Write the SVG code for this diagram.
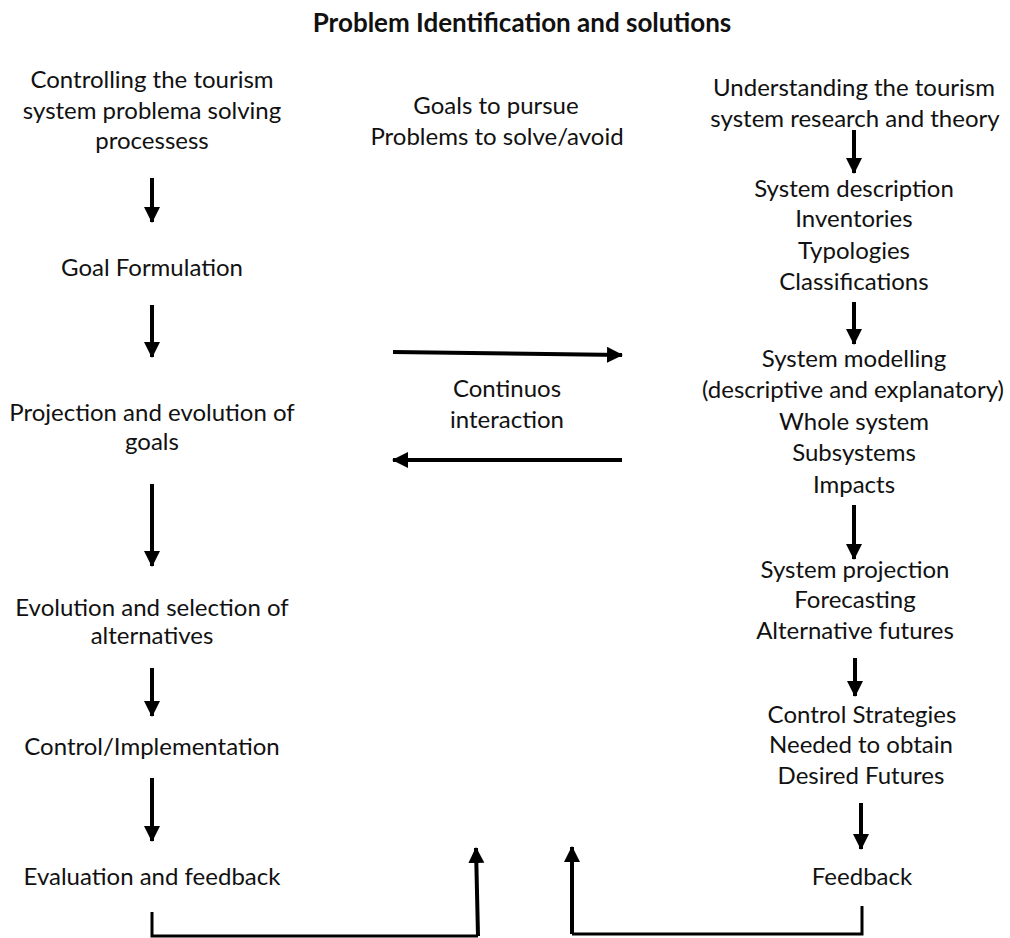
<svg xmlns="http://www.w3.org/2000/svg" width="1010" height="938" viewBox="0 0 1010 938">
  <style>
    text { font-family: Lato, "Liberation Sans", sans-serif; font-size: 24px; fill: #111; text-anchor: middle; }
    .title { font-weight: bold; font-size: 26px; }
    .arrow { stroke: #000; stroke-width: 4; fill: none; marker-end: url(#head); }
    .line { stroke: #000; stroke-width: 3; fill: none; }
  </style>
  <defs>
    <marker id="head" markerUnits="userSpaceOnUse" markerWidth="18" markerHeight="18" refX="15" refY="8" orient="auto">
      <path d="M0,0 L16,8 L0,16 Z" fill="#000"/>
    </marker>
  </defs>

  <rect width="1010" height="938" fill="#fff"/>

  <text class="title" x="522" y="32">Problem Identification and solutions</text>

  <!-- left column: problem solving process -->
  <g id="controlling">
    <text x="152" y="88">Controlling the tourism</text>
    <text x="152" y="119">system problema solving</text>
    <text x="152" y="149">processess</text>
  </g>
  <g id="goal-formulation"><text x="152" y="276">Goal Formulation</text></g>
  <g id="projection-goals">
    <text x="152" y="421">Projection and evolution of</text>
    <text x="152" y="450">goals</text>
  </g>
  <g id="alternatives">
    <text x="152" y="616">Evolution and selection of</text>
    <text x="152" y="644">alternatives</text>
  </g>
  <g id="implementation"><text x="152" y="755">Control/Implementation</text></g>
  <g id="evaluation"><text x="152" y="885">Evaluation and feedback</text></g>

  <!-- middle labels -->
  <g id="goals-problems">
    <text x="496" y="114">Goals to pursue</text>
    <text x="497" y="145">Problems to solve/avoid</text>
  </g>
  <g id="interaction">
    <text x="507" y="397">Continuos</text>
    <text x="507" y="428">interaction</text>
  </g>

  <!-- right column: research and theory -->
  <g id="understanding">
    <text x="854" y="96">Understanding the tourism</text>
    <text x="855" y="127">system research and theory</text>
  </g>
  <g id="description">
    <text x="854" y="197">System description</text>
    <text x="854" y="227">Inventories</text>
    <text x="854" y="259">Typologies</text>
    <text x="854" y="290">Classifications</text>
  </g>
  <g id="modelling">
    <text x="854" y="367">System modelling</text>
    <text x="853" y="398">(descriptive and explanatory)</text>
    <text x="854" y="430">Whole system</text>
    <text x="854" y="461">Subsystems</text>
    <text x="854" y="493">Impacts</text>
  </g>
  <g id="projection-system">
    <text x="855" y="578">System projection</text>
    <text x="855" y="608">Forecasting</text>
    <text x="855" y="639">Alternative futures</text>
  </g>
  <g id="strategies">
    <text x="862" y="723">Control Strategies</text>
    <text x="861" y="753">Needed to obtain</text>
    <text x="861" y="784">Desired Futures</text>
  </g>
  <g id="feedback"><text x="862" y="885">Feedback</text></g>

  <g id="connectors">
    <!-- left column flow -->
    <line class="arrow" x1="152" y1="178" x2="152" y2="222"/>
    <line class="arrow" x1="152" y1="305" x2="152" y2="357"/>
    <line class="arrow" x1="152" y1="484" x2="152" y2="566"/>
    <line class="arrow" x1="152" y1="668" x2="152" y2="716"/>
    <line class="arrow" x1="152" y1="778" x2="152" y2="841"/>
    <!-- right column flow -->
    <line class="arrow" x1="854" y1="130" x2="854" y2="173"/>
    <line class="arrow" x1="854" y1="302" x2="854" y2="344"/>
    <line class="arrow" x1="854" y1="505" x2="854" y2="559"/>
    <line class="arrow" x1="855" y1="658" x2="855" y2="696"/>
    <line class="arrow" x1="861" y1="803" x2="861" y2="849"/>
    <!-- continuous interaction -->
    <line class="arrow" x1="393" y1="352" x2="622" y2="355"/>
    <line class="arrow" x1="622" y1="460" x2="393" y2="460"/>
    <!-- feedback loops -->
    <polyline class="line" points="152,912 152,936 478,936"/>
    <line class="arrow" x1="478" y1="936" x2="476" y2="848"/>
    <polyline class="line" points="862,906 862,934 572,934"/>
    <line class="arrow" x1="572" y1="934" x2="572" y2="847"/>
  </g>
</svg>
